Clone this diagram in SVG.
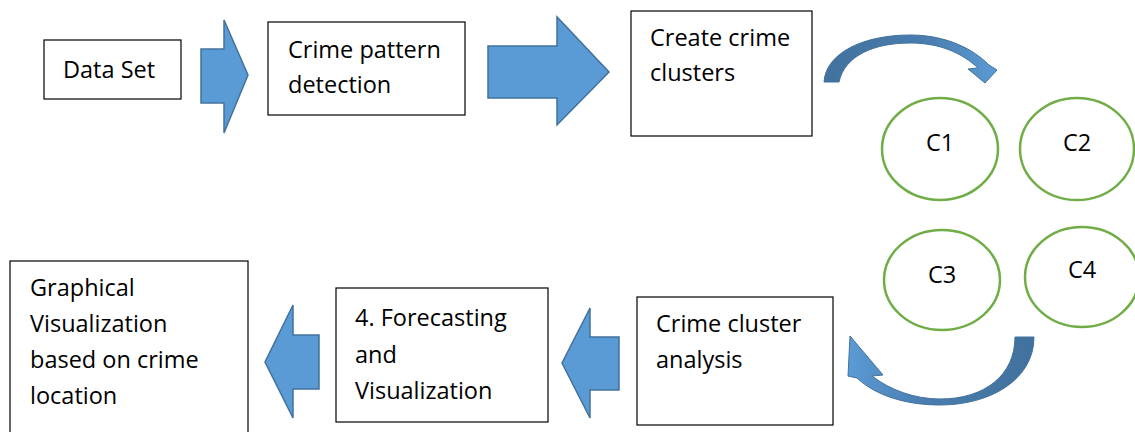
<svg xmlns="http://www.w3.org/2000/svg" width="1135" height="432" viewBox="0 0 1135 432">
<defs>
<style>
.box{fill:#fff;stroke:#000;stroke-width:1.2}
.t{font-family:"Open Sans","Liberation Sans",sans-serif;font-size:23.5px;fill:#000}
.c{fill:#fff;stroke:#70AD47;stroke-width:2.5}
.ba{fill:#5B9BD5;stroke:#41719C;stroke-width:1.5;stroke-linejoin:miter}
.ca{stroke:#41719C;stroke-width:1}
</style>
<linearGradient id="g1" x1="0" y1="0" x2="1" y2="0">
<stop offset="0" stop-color="#41719C"/>
<stop offset="0.6" stop-color="#4A7DB0"/>
<stop offset="1" stop-color="#5B9BD5"/>
</linearGradient>
<linearGradient id="g2" x1="1" y1="0" x2="0" y2="0">
<stop offset="0" stop-color="#41719C"/>
<stop offset="0.6" stop-color="#4A7DB0"/>
<stop offset="1" stop-color="#5B9BD5"/>
</linearGradient>
</defs>
<rect width="1135" height="432" fill="#fff"/>
<g id="connectors">
<path class="ba" d="M201,49 L224,49 L224,20 L248,75 L224,133 L224,103 L201,103 Z"/>
<path class="ba" d="M488,46 L557,46 L557,17 L609,72 L557,125 L557,98 L488,98 Z"/>
<path class="ba" d="M319,335 L293,335 L293,305 L265,362 L293,418 L293,389 L319,389 Z"/>
<path class="ba" d="M619,337 L590,337 L590,308 L562,363 L590,418 L590,390 L619,390 Z"/>
<path class="ca" fill="url(#g1)" d="M824,82 C826,52 865,35 910,35 C945,35 972,48 989,65 L997,70 L985,83 L968,69 L978,68 C962,53 940,43 910,43 C875,43 845,55 839,82 Z"/>
<path class="ca" fill="url(#g2)" d="M1034,337 C1034,380 990,405 940,405 C905,405 875,395 857,378 L848,376 L850,336 L883,375 L872,376 C890,390 915,399 940,399 C985,399 1015,375 1015,337 Z"/>
</g>
<g id="n-dataset">
<rect class="box" x="44" y="40" width="137" height="59"/>
<text class="t" x="63" y="78">Data Set</text>
</g>
<g id="n-pattern">
<rect class="box" x="268" y="22" width="197" height="93"/>
<text class="t" x="288" y="58">Crime pattern</text>
<text class="t" x="288" y="93">detection</text>
</g>
<g id="n-clusters">
<rect class="box" x="631" y="11" width="181" height="125"/>
<text class="t" x="650" y="46">Create crime</text>
<text class="t" x="650" y="81">clusters</text>
</g>
<g id="n-c1">
<ellipse class="c" cx="940" cy="149" rx="58" ry="51"/>
<text class="t" x="940" y="151" text-anchor="middle">C1</text>
</g>
<g id="n-c2">
<ellipse class="c" cx="1077" cy="149" rx="57" ry="51"/>
<text class="t" x="1077" y="151" text-anchor="middle">C2</text>
</g>
<g id="n-c3">
<ellipse class="c" cx="942" cy="280" rx="58" ry="50"/>
<text class="t" x="942" y="283" text-anchor="middle">C3</text>
</g>
<g id="n-c4">
<ellipse class="c" cx="1082" cy="277" rx="57" ry="50"/>
<text class="t" x="1082" y="278" text-anchor="middle">C4</text>
</g>
<g id="n-analysis">
<rect class="box" x="637" y="297" width="196" height="128"/>
<text class="t" x="656" y="332">Crime cluster</text>
<text class="t" x="656" y="368">analysis</text>
</g>
<g id="n-forecast">
<rect class="box" x="336" y="288" width="212" height="134"/>
<text class="t" x="355" y="326">4. Forecasting</text>
<text class="t" x="355" y="363">and</text>
<text class="t" x="355" y="399">Visualization</text>
</g>
<g id="n-graphical">
<rect class="box" x="10" y="261" width="238" height="175"/>
<text class="t" x="30" y="296">Graphical</text>
<text class="t" x="30" y="332">Visualization</text>
<text class="t" x="30" y="368">based on crime</text>
<text class="t" x="30" y="404">location</text>
</g>
</svg>
